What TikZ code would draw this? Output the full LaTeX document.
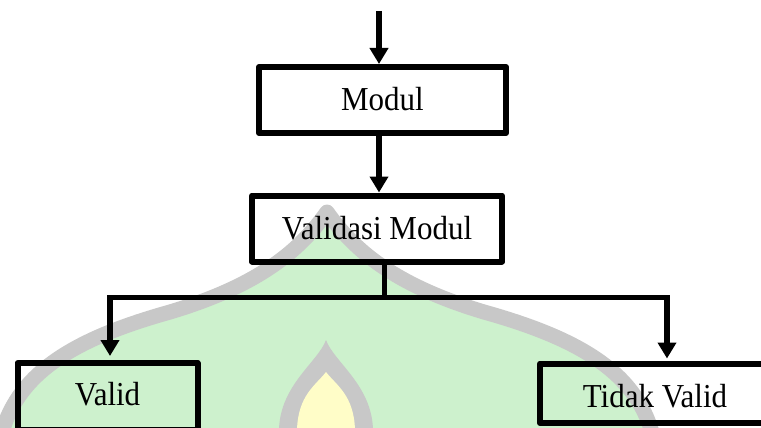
\documentclass[tikz,border=0pt]{standalone}
\usepackage{fontspec}
\setmainfont[FakeStretch=0.925]{Liberation Serif}
\usetikzlibrary{arrows.meta}
\definecolor{domegreen}{RGB}{205,241,205}
\definecolor{domegray}{RGB}{200,200,200}
\definecolor{flameyellow}{RGB}{255,253,200}
\begin{document}
\begin{tikzpicture}[x=1pt,y=-1pt,
  box/.style={draw, line width=6pt, line join=round, inner sep=0pt,
    font=\fontsize{33.5}{40}\selectfont, text height=21pt, text depth=0pt},
  flow/.style={line width=6pt, -{Triangle[width=18pt,length=16pt]}},
  rail/.style={line width=5pt},
]
\useasboundingbox (0,0) rectangle (761,428);
\clip (0,0) rectangle (761,428);

% background emblem: dome with a flame
\fill[domegreen] (327,212) .. controls (300,250) and (260,285) .. (170,312)
  .. controls (70,340) and (15,375) .. (0,440) -- (654,440)
  .. controls (639,375) and (584,340) .. (484,312)
  .. controls (394,285) and (354,250) .. (327,212) -- cycle;
\draw[domegray, line width=15pt, line join=round]
  (0,440) .. controls (15,375) and (70,340) .. (170,312)
  .. controls (260,285) and (300,250) .. (327,212)
  .. controls (354,250) and (394,285) .. (484,312)
  .. controls (584,340) and (639,375) .. (654,440);
\fill[domegray] (326,340) .. controls (318,362) and (280,385) .. (279,430)
  -- (373,430) .. controls (372,385) and (334,362) .. (326,340) -- cycle;
\fill[flameyellow] (326,372) .. controls (316,385) and (298,395) .. (297,430)
  -- (355,430) .. controls (354,395) and (336,385) .. (326,372) -- cycle;

% flow boxes
\node[box, minimum width=247pt, minimum height=66pt] (modul) at (382.5,100) {Modul};
\node[box, minimum width=250pt, minimum height=66pt] (valmod) at (377,228.5) {Validasi Modul};
\node[box, minimum width=180pt, minimum height=67pt, text height=17pt] (valid) at (107.5,396.5) {Valid};
\node[box, minimum width=230pt, minimum height=59.5pt, text height=28pt] (tidak) at (655,393.25) {Tidak Valid};

% connectors
\coordinate (start) at (379,11);
\coordinate (axis) at (379,0);
\coordinate (jn) at (384.5,297.5);
\coordinate (lc) at (110,297.5);
\coordinate (rc) at (667,297.5);

\draw[flow] (start) -- (start |- modul.north);
\draw[flow] (axis |- modul.south) -- (axis |- valmod.north);
\draw[rail] (valmod.south -| jn) -- (jn);
\draw[rail] ([xshift=-3pt]lc) -- ([xshift=3pt]rc);
\draw[flow, shorten >=4pt] (lc) -- (lc |- valid.north);
\draw[flow, shorten >=2pt] (rc) -- (rc |- tidak.north);
\end{tikzpicture}
\end{document}
